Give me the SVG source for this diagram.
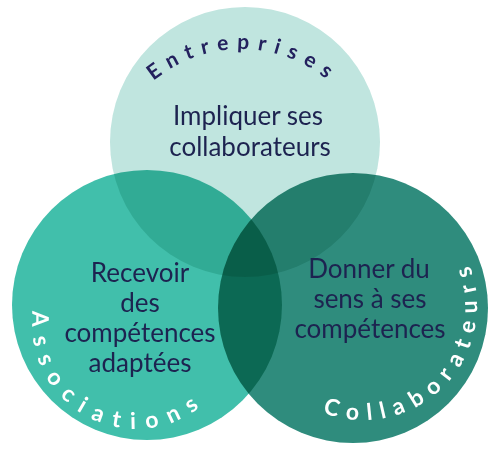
<svg xmlns="http://www.w3.org/2000/svg" width="500" height="458" viewBox="0 0 500 458">
<defs>
<style>
.c{mix-blend-mode:multiply}
.main{font-family:Lato,"Liberation Sans",sans-serif;font-size:26px;fill:#1d2350;text-anchor:middle}
.arcw{font-family:Lato,"Liberation Sans",sans-serif;font-size:23px;font-weight:bold;fill:#ffffff}
.arcn{font-family:Lato,"Liberation Sans",sans-serif;font-size:21px;font-weight:bold;fill:#23215e;letter-spacing:8.2px}
</style>
<path id="pTop" d="M 105 185 A 136 136 0 0 1 377 185"/>
<path id="pLeft" d="M 55.5 259.1 A 104 104 0 1 0 234.2 359.4"/>
<path id="pRight" d="M 269.9 371.7 A 114 114 0 1 0 428.1 212.4"/>
</defs>
<rect width="500" height="458" fill="#ffffff"/>
<g id="circles">
<g id="entreprises"><circle class="c" cx="245" cy="142" r="135" fill="#c0e5df"/></g>
<g id="associations"><circle class="c" cx="147" cy="305" r="135" fill="#41bfab"/></g>
<g id="collaborateurs"><circle class="c" cx="353" cy="308" r="135" fill="#2f8c7d"/></g>
</g>
<g id="labels">
<text class="arcn"><textPath href="#pTop" startOffset="216" text-anchor="middle">Entreprises</textPath></text>
<text class="arcw" letter-spacing="10.6"><textPath href="#pLeft" startOffset="185" text-anchor="middle">Associations</textPath></text>
<text class="arcw" letter-spacing="8.6"><textPath href="#pRight" startOffset="203" text-anchor="middle">Collaborateurs</textPath></text>
<text class="main" x="248" y="125">Impliquer ses</text>
<text class="main" x="250" y="156">collaborateurs</text>
<text class="main" x="140" y="282">Recevoir</text>
<text class="main" x="140" y="312">des</text>
<text class="main" x="140" y="342">compétences</text>
<text class="main" x="140" y="372">adaptées</text>
<text class="main" x="369" y="278">Donner du</text>
<text class="main" x="370" y="308">sens à ses</text>
<text class="main" x="370" y="338">compétences</text>
</g>
<g id="connectors"></g>
</svg>
